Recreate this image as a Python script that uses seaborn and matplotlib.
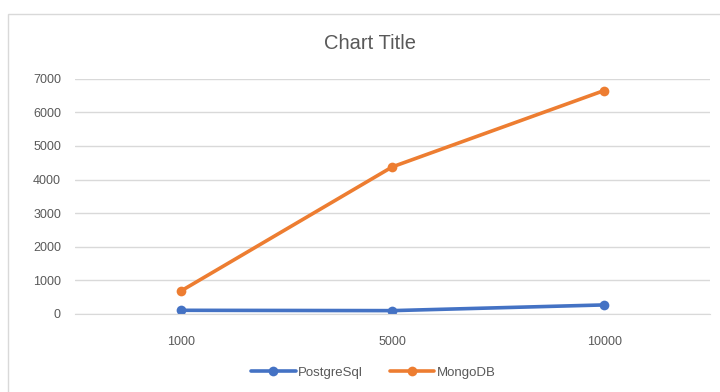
import pandas as pd
import matplotlib.pyplot as plt
import seaborn as sns
from matplotlib.patches import Rectangle

# data
records = ['1000', '5000', '10000']
postgres = [110, 100, 270]
mongo = [680, 4380, 6650]

df = pd.DataFrame({
    'records': records * 2,
    'time': postgres + mongo,
    'db': ['PostgreSql'] * 3 + ['MongoDB'] * 3,
})

sns.set_style('white')
plt.rcParams['font.family'] = ['Liberation Sans', 'DejaVu Sans']

fig = plt.figure(figsize=(7.2, 3.92), dpi=100)
ax = fig.add_axes([0.104, 0.199, 0.882, 0.6])

# light frame around the chart like an Excel chart area
fig.patches.append(Rectangle((0.011, -0.01), 1.0, 0.975, transform=fig.transFigure,
                             fill=False, edgecolor='#d9d9d9', linewidth=1))

sns.lineplot(data=df, x='records', y='time', hue='db', marker='o',
             palette={'PostgreSql': '#4472C4', 'MongoDB': '#ED7D31'},
             linewidth=2.6, markersize=7, markeredgewidth=0, ax=ax, sort=False)

ax.set_xlim(-0.5, 2.5)
ax.set_ylim(0, 7000)
ax.set_yticks(range(0, 7001, 1000))
ax.grid(axis='y', color='#d9d9d9', linewidth=1)
ax.set_axisbelow(True)
for s in ['top', 'right', 'left']:
    ax.spines[s].set_visible(False)
ax.spines['bottom'].set_color('#d9d9d9')
ax.tick_params(axis='both', length=0, labelsize=9, colors='#595959')
ax.tick_params(axis='y', pad=10)
ax.tick_params(axis='x', pad=16)
ax.set_xlabel('')
ax.set_ylabel('')

fig.text(0.514, 0.89, 'Chart Title', fontsize=14.5, color='#595959',
         ha='center', va='center')

ax.legend(loc='center', bbox_to_anchor=(0.47, -0.25), ncol=2, frameon=False,
          fontsize=9.5, labelcolor='#595959', handlelength=3.4, columnspacing=2.0,
          handletextpad=0.2)

fig.savefig('out.png', dpi=100)
